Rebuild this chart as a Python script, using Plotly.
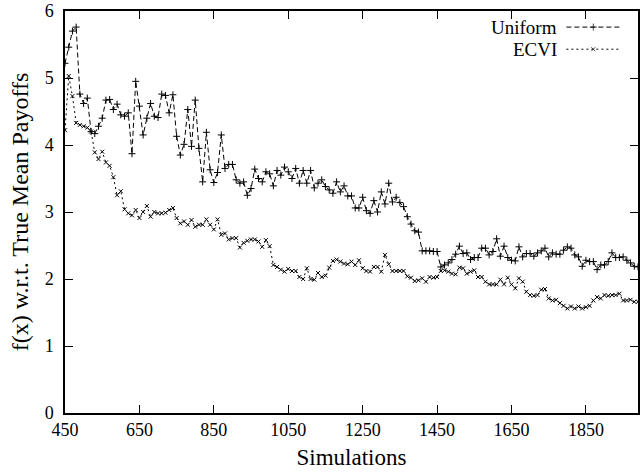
import plotly.graph_objects as go

simulations = list(range(450, 2000, 10))

uniform = [
    5.22, 5.46, 5.70, 5.76, 4.76, 4.62, 4.70, 4.20, 4.17, 4.28,
    4.40, 4.67, 4.68, 4.53, 4.61, 4.45, 4.43, 4.48, 3.87, 4.95,
    4.58, 4.15, 4.40, 4.62, 4.43, 4.41, 4.76, 4.74, 4.48, 4.75,
    4.13, 3.85, 4.01, 4.53, 3.98, 4.67, 3.95, 3.45, 4.19, 3.63,
    3.44, 3.59, 4.15, 3.65, 3.71, 3.71, 3.48, 3.43, 3.45, 3.25,
    3.35, 3.64, 3.50, 3.45, 3.60, 3.57, 3.39, 3.62, 3.55, 3.67,
    3.60, 3.50, 3.65, 3.43, 3.62, 3.43, 3.62, 3.36, 3.43, 3.48,
    3.38, 3.33, 3.28, 3.45, 3.30, 3.39, 3.24, 3.24, 3.06, 3.06,
    3.22, 3.02, 2.98, 3.17, 3.00, 3.30, 3.12, 3.43, 3.15, 3.22,
    3.14, 3.08, 2.93, 2.82, 2.72, 2.70, 2.42, 2.42, 2.42, 2.41,
    2.41, 2.18, 2.21, 2.24, 2.29, 2.37, 2.49, 2.38, 2.39, 2.29,
    2.32, 2.32, 2.46, 2.46, 2.36, 2.41, 2.60, 2.34, 2.49, 2.32,
    2.28, 2.27, 2.48, 2.33, 2.38, 2.38, 2.34, 2.39, 2.42, 2.46,
    2.33, 2.39, 2.37, 2.37, 2.43, 2.48, 2.46, 2.36, 2.33, 2.19,
    2.28, 2.26, 2.26, 2.14, 2.21, 2.21, 2.26, 2.39, 2.32, 2.32,
    2.33, 2.28, 2.24, 2.19, 2.18,
]

ecvi = [
    4.22, 5.03, 4.73, 4.33, 4.30, 4.28, 4.26, 4.20, 3.89, 3.79,
    3.90, 3.74, 3.69, 3.52, 3.25, 3.31, 3.04, 2.98, 2.95, 3.03,
    2.91, 3.00, 3.09, 2.93, 3.00, 2.98, 2.98, 2.99, 3.03, 3.06,
    2.91, 2.83, 2.86, 2.81, 2.88, 2.78, 2.81, 2.81, 2.89, 2.81,
    2.74, 2.89, 2.66, 2.68, 2.59, 2.61, 2.61, 2.47, 2.54, 2.57,
    2.59, 2.59, 2.56, 2.48, 2.58, 2.49, 2.21, 2.18, 2.14, 2.11,
    2.15, 2.12, 2.12, 2.03, 2.00, 2.16, 2.00, 1.99, 2.09, 2.03,
    2.05, 2.17, 2.27, 2.29, 2.26, 2.23, 2.22, 2.26, 2.21, 2.28,
    2.16, 2.12, 2.11, 2.18, 2.18, 2.11, 2.36, 2.22, 2.12, 2.12,
    2.12, 2.12, 2.04, 2.02, 1.97, 1.98, 2.01, 1.96, 2.03, 2.02,
    2.03, 2.12, 2.13, 2.11, 2.08, 2.07, 2.17, 2.16, 2.08, 2.11,
    2.13, 2.03, 2.03, 1.96, 1.92, 1.92, 1.92, 1.99, 1.92, 2.02,
    1.92, 1.86, 2.01, 1.96, 1.81, 1.76, 1.75, 1.76, 1.84, 1.85,
    1.71, 1.68, 1.69, 1.64, 1.60, 1.56, 1.59, 1.56, 1.59, 1.56,
    1.58, 1.60, 1.68, 1.73, 1.71, 1.76, 1.75, 1.76, 1.76, 1.78,
    1.68, 1.68, 1.69, 1.66, 1.66,
]

x_ticks = [450, 650, 850, 1050, 1250, 1450, 1650, 1850]
y_ticks = [0, 1, 2, 3, 4, 5, 6]
series_names = ["Uniform", "ECVI"]

FONT = "Liberation Serif, Times New Roman, serif"

UNI_DASH = "5px,3px"
ECVI_DASH = "2px,3px"

fig = go.Figure()

fig.add_trace(go.Scatter(
    x=simulations, y=uniform, name=series_names[0], mode="lines+markers",
    line=dict(color="black", width=1, dash=UNI_DASH),
    marker=dict(symbol="cross-thin", size=5, color="black",
                line=dict(color="black", width=1)),
    showlegend=False,
))
fig.add_trace(go.Scatter(
    x=simulations, y=ecvi, name=series_names[1], mode="lines+markers",
    line=dict(color="black", width=1, dash=ECVI_DASH),
    marker=dict(symbol="x-thin", size=4, color="black",
                line=dict(color="black", width=1)),
    showlegend=False,
))

# custom gnuplot-style legend (text on the left, sample on the right)
legend_y = [0.960, 0.905]
dashes = [UNI_DASH, ECVI_DASH]
symbols = ["cross-thin", "x-thin"]
msizes = [5, 4]
for name, ly, dsh, sym, ms in zip(series_names, legend_y, dashes, symbols, msizes):
    fig.add_trace(go.Scatter(
        x=[0.875, 0.922, 0.969], y=[ly, ly, ly], xaxis="x2", yaxis="y2",
        mode="lines+markers", showlegend=False, hoverinfo="skip",
        line=dict(color="black", width=1, dash=dsh),
        marker=dict(symbol=sym, size=[0, ms, 0], color="black",
                    line=dict(color="black", width=1)),
    ))
    fig.add_annotation(
        x=0.861, y=ly, xref="paper", yref="paper", text=name,
        showarrow=False, xanchor="right", yanchor="middle",
        font=dict(family=FONT, size=19, color="black"),
        borderpad=0,
    )

fig.update_layout(
    width=640, height=474,
    margin=dict(l=65, r=0, t=11, b=61),
    paper_bgcolor="white", plot_bgcolor="white",
    font=dict(family=FONT, size=18, color="black"),
    xaxis=dict(
        range=[450, 1990], tickvals=x_ticks, ticktext=[str(v) for v in x_ticks],
        ticks="inside", ticklen=8, tickwidth=1, tickcolor="black",
        showline=True, linecolor="black", linewidth=1.5, mirror="allticks",
        showgrid=False, zeroline=False,
        title=dict(text="Simulations", font=dict(size=23), standoff=10),
    ),
    yaxis=dict(
        range=[0, 6], tickvals=y_ticks,
        ticks="inside", ticklen=8, tickwidth=1, tickcolor="black",
        showline=True, linecolor="black", linewidth=1.5, mirror="allticks",
        showgrid=False, zeroline=False, ticklabelstandoff=6,
        title=dict(text="f(x) w.r.t. True Mean Payoffs", font=dict(size=24), standoff=9),
    ),
    xaxis2=dict(range=[0, 1], overlaying="x", visible=False),
    yaxis2=dict(range=[0, 1], overlaying="y", visible=False),
)

fig.write_html("out.html")
